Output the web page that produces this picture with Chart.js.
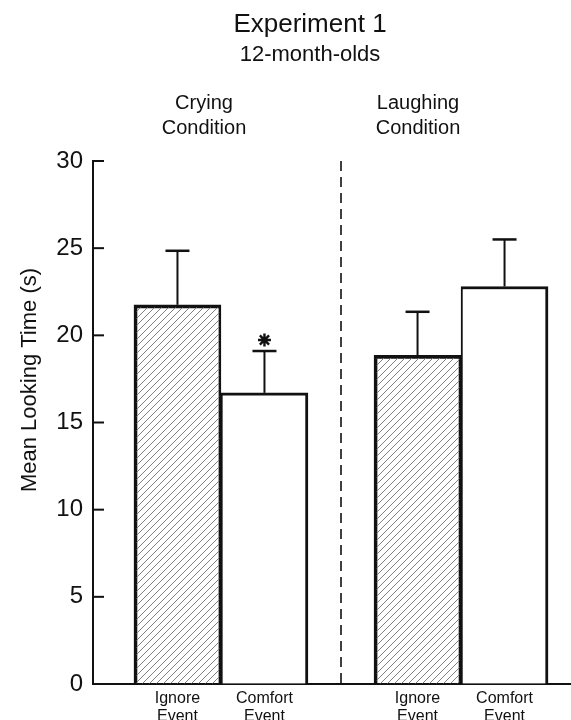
<!DOCTYPE html>
<html>
<head>
<meta charset="utf-8">
<script src="https://cdn.jsdelivr.net/npm/chart.js@4.4.0/dist/chart.umd.min.js"></script>
<style>
html, body { margin: 0; padding: 0; background: #fff; overflow: hidden; }
</style>
</head>
<body>
<canvas id="lookingChart" width="571" height="720"></canvas>
<script>
// data
const conditions = ["Crying", "Laughing"];
const conditionPos = [0, 1];
const eventLabels = [["Ignore", "Event"], ["Comfort", "Event"]];
const ignoreMeans = [21.75, 18.85];
const ignoreSE = [3.1, 2.5];
const comfortMeans = [16.7, 22.8];
const comfortSE = [2.4, 2.7];
const significant = [[false, true], [false, false]]; // [condition][event]
const yMin = 0, yMax = 30, yStep = 5;

const FONT = "'Liberation Sans', Arial, Helvetica, sans-serif";
const INK = "#111";

function makeHatch() {
    const c = document.createElement("canvas");
    c.width = 7; c.height = 7;
    const g = c.getContext("2d");
    g.strokeStyle = "#808080";
    g.lineWidth = 1;
    g.beginPath();
    g.moveTo(0, 7); g.lineTo(7, 0);
    g.moveTo(-1, 1); g.lineTo(1, -1);
    g.moveTo(6, 8); g.lineTo(8, 6);
    g.stroke();
    return g.createPattern(c, "repeat");
}

const ctx = document.getElementById("lookingChart").getContext("2d");

const decorPlugin = {
    id: "decor",
    beforeDraw(chart) {
        const c = chart.ctx;
        c.save();
        c.fillStyle = "#fff";
        c.fillRect(0, 0, chart.width, chart.height);
        c.restore();
    },
    afterDatasetsDraw(chart) {
        const c = chart.ctx;
        const x = chart.scales.x, y = chart.scales.y;
        const area = chart.chartArea;
        const sets = [[ignoreMeans, ignoreSE], [comfortMeans, comfortSE]];
        c.save();
        c.strokeStyle = INK;

        // error bars (upper only)
        sets.forEach(function (s, di) {
            const meta = chart.getDatasetMeta(di);
            meta.data.forEach(function (bar, i) {
                const top = y.getPixelForValue(s[0][i] + s[1][i]);
                c.lineWidth = 2;
                c.beginPath();
                c.moveTo(bar.x, bar.y);
                c.lineTo(bar.x, top);
                c.stroke();
                c.lineWidth = 2.5;
                c.beginPath();
                c.moveTo(bar.x - 12, top);
                c.lineTo(bar.x + 12, top);
                c.stroke();
                if (significant[i][di]) {
                    const cy = top - 11, r = 6.5;
                    c.lineWidth = 2.4;
                    c.beginPath();
                    for (let k = 0; k < 4; k++) {
                        const a = k * Math.PI / 4;
                        c.moveTo(bar.x - r * Math.sin(a), cy - r * Math.cos(a));
                        c.lineTo(bar.x + r * Math.sin(a), cy + r * Math.cos(a));
                    }
                    c.stroke();
                }
            });
        });

        // dashed divider between conditions
        const mid = x.getPixelForValue((conditionPos[0] + conditionPos[1]) / 2);
        c.lineWidth = 1.6;
        c.setLineDash([10, 6]);
        c.beginPath();
        c.moveTo(mid, area.top);
        c.lineTo(mid, area.bottom);
        c.stroke();
        c.setLineDash([]);

        // inward tick marks on the y axis
        c.lineWidth = 2;
        y.ticks.forEach(function (t) {
            const py = y.getPixelForValue(t.value);
            c.beginPath();
            c.moveTo(area.left, py);
            c.lineTo(area.left + 11, py);
            c.stroke();
        });
        c.restore();
    },
    afterDraw(chart) {
        const c = chart.ctx;
        c.save();
        c.fillStyle = INK;
        c.textAlign = "center";
        c.textBaseline = "alphabetic";

        c.font = "26px " + FONT;
        c.fillText("Experiment 1", 310, 32);
        c.font = "22px " + FONT;
        c.fillText("12-month-olds", 310, 61);

        c.font = "20px " + FONT;
        const condX = [204, 418];
        conditions.forEach(function (name, i) {
            c.fillText(name, condX[i], 109);
            c.fillText("Condition", condX[i], 134);
        });

        // event labels under each bar
        c.font = "16px " + FONT;
        [0, 1].forEach(function (di) {
            chart.getDatasetMeta(di).data.forEach(function (bar) {
                c.fillText(eventLabels[di][0], bar.x, 703);
                c.fillText(eventLabels[di][1], bar.x, 721);
            });
        });

        // y axis title
        c.font = "22px " + FONT;
        c.translate(36, 380);
        c.rotate(-Math.PI / 2);
        c.fillText("Mean Looking Time (s)", 0, 0);
        c.restore();
    }
};

const chart = new Chart(ctx, {
    type: "bar",
    data: {
        datasets: [
            {
                label: "Ignore Event",
                data: conditionPos.map(function (p, i) { return { x: p, y: ignoreMeans[i] }; }),
                backgroundColor: makeHatch(),
                borderColor: INK,
                borderWidth: { top: 3, left: 3, right: 2, bottom: 0 },
                borderSkipped: false,
                barThickness: 87
            },
            {
                label: "Comfort Event",
                data: conditionPos.map(function (p, i) { return { x: p, y: comfortMeans[i] }; }),
                backgroundColor: "#fff",
                borderColor: INK,
                borderWidth: { top: 3, left: 2, right: 3, bottom: 0 },
                borderSkipped: false,
                barThickness: 87
            }
        ]
    },
    options: {
        responsive: false,
        animation: false,
        layout: { padding: { top: 161, left: 0, right: 0, bottom: 0 } },
        plugins: {
            legend: { display: false },
            tooltip: { enabled: false },
            title: { display: false }
        },
        scales: {
            x: {
                type: "linear",
                bounds: "data",
                offset: false,
                min: -0.533,
                max: 1.458,
                ticks: { display: false },
                grid: { drawOnChartArea: false, drawTicks: false, offset: false },
                border: { display: true, color: INK, width: 2 },
                afterFit: function (s) { s.height = 36; }
            },
            y: {
                min: yMin,
                max: yMax,
                ticks: {
                    stepSize: yStep,
                    color: INK,
                    padding: 10,
                    font: { family: FONT, size: 24 }
                },
                grid: { drawOnChartArea: false, drawTicks: false },
                border: { display: true, color: INK, width: 2 },
                afterFit: function (s) { s.width = 93; }
            }
        }
    },
    plugins: [decorPlugin]
});
</script>
</body>
</html>
